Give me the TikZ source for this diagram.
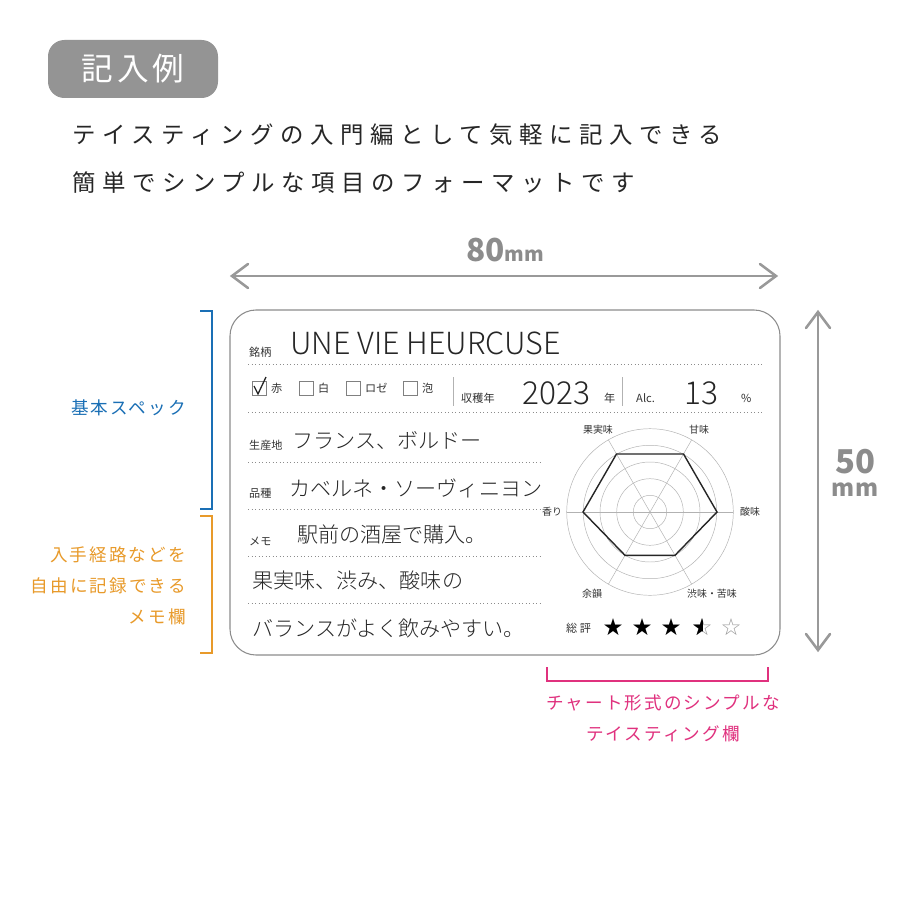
\documentclass[tikz,border=0pt]{standalone}
\usepackage{fontspec}
\usetikzlibrary{calc}
\setmainfont{Noto Sans CJK JP}
\newfontfamily\hand{Noto Sans CJK JP Light}
\newfontfamily\spaced[LetterSpace=28]{Noto Sans CJK JP}
\newfontfamily\spacedb[LetterSpace=12]{Noto Sans CJK JP}
\newfontfamily\sym{DejaVu Sans}
\begin{document}
\begin{tikzpicture}[x=0.03cm,y=-0.03cm,
  lbl/.style={inner sep=0,text=black!80,font=\fontsize{9.5}{10}\selectfont},
  rl/.style={inner sep=0,text=black!80,font=\fontsize{8.5}{9}\selectfont},
  hw/.style={inner sep=0,anchor=west,text=black!85,font=\hand\fontsize{18}{20}\selectfont},
  dot/.style={black!45,line width=0.8pt,dash pattern=on 0.8pt off 2.2pt},
  dim/.style={black!40,line width=2.2pt,line cap=round},
  ring/.style={black!30,line width=0.4pt},
  st/.style={inner sep=0,font=\sym\fontsize{20}{21}\selectfont}]
\definecolor{blu}{HTML}{1A6FB5}\definecolor{org}{HTML}{E89A2A}\definecolor{pnk}{HTML}{E0317E}
\fill[white] (0,0) rectangle (900,900);
\useasboundingbox (0,0) rectangle (900,900);
% title
\node[fill=black!42,rounded corners=14pt,minimum width=170*0.03cm,minimum height=58*0.03cm,text=white,font=\spacedb\fontsize{27}{30}\selectfont] (title) at (133,69) {記入例};
\node[anchor=west,inner sep=0,text=black!85,font=\spaced\fontsize{20}{24}\selectfont] (h1) at (72,135) {テイスティングの入門編として気軽に記入できる};
\node[anchor=west,inner sep=0,text=black!85,font=\spaced\fontsize{20}{24}\selectfont] (h2) at (72,183) {簡単でシンプルな項目のフォーマットです};
% dims
\coordinate (wl) at (232,276); \coordinate (wr) at (776,276);
\draw[dim] (wl)--(wr);
\draw[dim] (248,264)--(wl)--(248,288); \draw[dim] (760,264)--(wr)--(760,288);
\node[text=black!45,font=\bfseries\fontsize{27}{30}\selectfont] (w) at (505,250) {80\fontsize{17}{19}\selectfont mm};
\coordinate (ht) at (818,312); \coordinate (hb) at (818,650);
\draw[dim] (ht)--(hb);
\draw[dim] (806,328)--(ht)--(830,328); \draw[dim] (806,634)--(hb)--(830,634);
\node[text=black!45,font=\bfseries\fontsize{28}{30}\selectfont] (h50) at (855,462) {50};
\node[text=black!45,font=\bfseries\fontsize{20}{22}\selectfont] (hmm) at (855,490) {mm};
% card
\draw[black!45,line width=0.9pt,rounded corners=26*0.03cm] (230,310) rectangle (780,655);
% brackets
\draw[blu,line width=1.5pt] (200,311)--(212,311)--(212,509)--(200,509);
\node[text=blu,anchor=east,font=\spacedb\fontsize{15}{17}\selectfont] (bl) at (190,408) {基本スペック};
\draw[org,line width=1.5pt] (200,516)--(212,516)--(212,653)--(200,653);
\node[text=org,anchor=east,align=right,font=\spacedb\fontsize{15}{26.5}\selectfont] (ol) at (190,586) {入手経路などを\\自由に記録できる\\メモ欄};
\draw[pnk,line width=1.5pt] (547,667)--(547,681)--(768,681)--(768,667);
\node[text=pnk,align=center,font=\spacedb\fontsize{15}{26.5}\selectfont] (pl) at (663,718) {チャート形式のシンプルな\\テイスティング欄};
% rows
\node[lbl,anchor=west] (n1) at (249,352) {銘柄};
\node[hw,font=\hand\fontsize{26}{28}\selectfont] (v1) at (290,343) {UNE VIE HEURCUSE};
\draw[dot] (248,364)--(762,364);
\foreach \x/\t/\n in {252/赤/a,299/白/b,346/ロゼ/c,403/泡/d}{
  \draw[black!50,line width=0.5pt] (\x,381) rectangle ++(14,14);
  \node[lbl,anchor=west] (c\n) at (\x+19,388) {\t};}
\draw[black!85,line width=1.1pt] (254,386)--(258,394)--(266,377);
\draw[black!30] (453,377)--(453,406); \draw[black!30] (622,377)--(622,406);
\node[lbl,anchor=west] (yl) at (461,398) {収穫年};
\node[hw,font=\hand\fontsize{27}{29}\selectfont] (yv) at (522,393) {2023};
\node[lbl,anchor=west] (yn) at (604,398) {年};
\node[lbl,anchor=west,font=\fontsize{9.5}{10}\selectfont] (al) at (636,398) {Alc.};
\node[hw,font=\hand\fontsize{27}{29}\selectfont] (av) at (684,393) {13};
\node[lbl,anchor=west] (pc) at (741,398) {\%};
\draw[dot] (248,412)--(762,412);
\node[lbl,anchor=west] (n3) at (249,445) {生産地};
\node[hw] (v3) at (292,440) {フランス、ボルドー};
\draw[dot] (248,462)--(540,462);
\node[lbl,anchor=west] (n4) at (249,493) {品種};
\node[hw] (v4) at (289,488) {カベルネ・ソーヴィニヨン};
\draw[dot] (248,509)--(540,509);
\node[lbl,anchor=west] (n5) at (249,541) {メモ};
\node[hw] (v5) at (297,534) {駅前の酒屋で購入。};
\draw[dot] (248,556)--(540,556);
\node[hw] (v6) at (252,580) {果実味、渋み、酸味の};
\draw[dot] (248,603)--(540,603);
\node[hw] (v7) at (252,628) {バランスがよく飲みやすい。};
% radar
\coordinate (rc) at (650,512);
\foreach \r in {16.7,33.3,50,66.7,83.3} \draw[ring] (rc) circle[radius=\r*0.03cm];
\foreach \a in {0,60,...,300} \draw[ring] (rc) -- ++(\a:83.3);
\draw[black!85,line width=1.2pt] ($(rc)+(-120:67)$) -- ($(rc)+(-60:67)$) -- ($(rc)+(0:67)$) -- ($(rc)+(60:50)$) -- ($(rc)+(120:50)$) -- ($(rc)+(180:67)$) -- cycle;
\node[rl] (r1) at (598,430) {果実味};
\node[rl] (r2) at (699,430) {甘味};
\node[rl] (r3) at (750,512) {酸味};
\node[rl] (r4) at (552,512) {香り};
\node[rl] (r5) at (592,594) {余韻};
\node[rl] (r6) at (712,594) {渋味・苦味};
\node[lbl,anchor=west] (sc) at (566,628) {総 評};
\foreach \x/\n in {613/s1,642/s2,671/s3}\node[st] (\n) at (\x,627) {★};
\node[st,text=black!40] (s4) at (702,627) {☆};
\begin{scope}\clip (688,610) rectangle (702,645);
\node[st] at (702,627) {★};\end{scope}
\node[st,text=black!40] (s5) at (731,627) {☆};
\end{tikzpicture}
\end{document}
